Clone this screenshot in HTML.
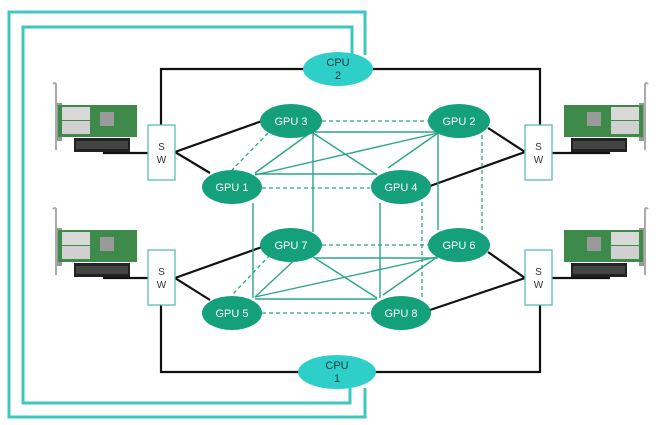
<!DOCTYPE html>
<html><head><meta charset="utf-8"><style>
html,body{margin:0;padding:0;background:#fff;}
svg{display:block;}
text{font-family:"Liberation Sans",sans-serif;}
</style></head><body>
<svg width="660" height="425" viewBox="0 0 660 425" xmlns="http://www.w3.org/2000/svg">
<defs>
<g id="nic">
  <!-- left-oriented card: bracket at left -->
  <path d="M53,84 Q55,82 56,84 L56,150" stroke="#aaa" stroke-width="2" fill="none"/>
  <rect x="57" y="103" width="5" height="38" fill="#999"/>
  <rect x="58" y="105" width="79" height="32" fill="#3d8a4a"/>
  <rect x="62" y="107" width="28" height="13" fill="#d8d8d8"/>
  <rect x="62" y="121" width="28" height="13" fill="#d0d0d0"/>
  <rect x="100" y="112" width="14" height="14" fill="#9a9a9a"/>
  <rect x="74" y="138" width="56" height="14" fill="#222"/>
  <rect x="76" y="141" width="52" height="8" fill="#444"/>
</g>
</defs>

<!-- outer teal loops -->
<g fill="none" stroke="#3cc8c0" stroke-width="3">
  <polyline points="365,55 365,12 9,12 9,417 365,417 365,388"/>
  <polyline points="352,55 352,27 23,27 23,403 350,403 350,388"/>
</g>

<!-- NICs -->
<use href="#nic"/>
<use href="#nic" transform="translate(0,125)"/>
<use href="#nic" transform="translate(701,0) scale(-1,1)"/>
<use href="#nic" transform="translate(701,125) scale(-1,1)"/>

<!-- black lines -->
<g fill="none" stroke="#111" stroke-width="2.2">
  <polyline points="161,125 161,69 305,69"/>
  <polyline points="372,69 540,69 540,125"/>
  <polyline points="161,305 161,372 305,372"/>
  <polyline points="372,372 540,372 540,305"/>
  <line x1="103" y1="153" x2="148" y2="153"/>
  <line x1="103" y1="278" x2="148" y2="278"/>
  <line x1="552" y1="153" x2="610" y2="153"/>
  <line x1="552" y1="278" x2="610" y2="278"/>
  <polyline points="262,121 175,152 210,173"/>
  <polyline points="262,247 175,278 210,300"/>
  <polyline points="488,128 525,152 430,186"/>
  <polyline points="488,252 525,278 430,310"/>
</g>

<!-- teal GPU mesh -->
<g stroke="#2aa58a" stroke-width="1.4" fill="none">
  <line x1="315" y1="132" x2="438" y2="132"/>
  <line x1="313" y1="133" x2="377" y2="175"/>
  <line x1="313" y1="133" x2="313" y2="232"/>
  <line x1="310" y1="133" x2="255" y2="173"/>
  <line x1="438" y1="133" x2="255" y2="175"/>
  <line x1="438" y1="133" x2="388" y2="168"/>
  <line x1="255" y1="174" x2="377" y2="174"/>
  <line x1="438" y1="133" x2="438" y2="230"/>
  <line x1="253" y1="203" x2="253" y2="298"/>
  <line x1="380" y1="203" x2="380" y2="298"/>
  <line x1="315" y1="258" x2="438" y2="258"/>
  <line x1="313" y1="257" x2="377" y2="298"/>
  <line x1="300" y1="255" x2="255" y2="297"/>
  <line x1="437" y1="257" x2="255" y2="297"/>
  <line x1="437" y1="257" x2="383" y2="295"/>
  <line x1="255" y1="299" x2="377" y2="299"/>
</g>
<g stroke="#2aa58a" stroke-width="1.3" fill="none" stroke-dasharray="4,3">
  <line x1="322" y1="121" x2="430" y2="121"/>
  <line x1="268" y1="133" x2="232" y2="170"/>
  <line x1="262" y1="188" x2="370" y2="188"/>
  <line x1="482" y1="128" x2="482" y2="232"/>
  <line x1="422" y1="202" x2="422" y2="298"/>
  <line x1="322" y1="245" x2="430" y2="245"/>
  <line x1="270" y1="255" x2="232" y2="295"/>
  <line x1="262" y1="313" x2="370" y2="313"/>
</g>

<!-- SW boxes -->
<g fill="#fff" stroke="#5bbfb5" stroke-width="1.3">
  <rect x="148" y="125" width="27" height="55"/>
  <rect x="148" y="250" width="27" height="55"/>
  <rect x="525" y="125" width="27" height="55"/>
  <rect x="525" y="250" width="27" height="55"/>
</g>
<g font-size="10" fill="#333" text-anchor="middle">
  <text x="161.5" y="150">S</text><text x="161.5" y="163">W</text>
  <text x="161.5" y="275">S</text><text x="161.5" y="288">W</text>
  <text x="538.5" y="150">S</text><text x="538.5" y="163">W</text>
  <text x="538.5" y="275">S</text><text x="538.5" y="288">W</text>
</g>

<!-- CPUs -->
<g fill="#2ecfc9">
  <ellipse cx="338" cy="69" rx="35" ry="17"/>
  <ellipse cx="337" cy="372" rx="39" ry="17"/>
</g>
<g font-size="11" fill="#1a3a3a" text-anchor="middle">
  <text x="338" y="66">CPU</text><text x="338" y="79">2</text>
  <text x="337" y="369">CPU</text><text x="337" y="382">1</text>
</g>

<!-- GPUs -->
<g fill="#13a07a">
  <ellipse cx="291" cy="121" rx="31" ry="17"/>
  <ellipse cx="459" cy="121" rx="31" ry="17"/>
  <ellipse cx="232" cy="187" rx="30" ry="17"/>
  <ellipse cx="401" cy="187" rx="30" ry="17"/>
  <ellipse cx="291" cy="245" rx="31" ry="17"/>
  <ellipse cx="459" cy="245" rx="31" ry="17"/>
  <ellipse cx="232" cy="313" rx="30" ry="17"/>
  <ellipse cx="401" cy="313" rx="30" ry="17"/>
</g>
<g font-size="11" fill="#fff" text-anchor="middle">
  <text x="291" y="125">GPU 3</text>
  <text x="459" y="125">GPU 2</text>
  <text x="232" y="191">GPU 1</text>
  <text x="401" y="191">GPU 4</text>
  <text x="291" y="249">GPU 7</text>
  <text x="459" y="249">GPU 6</text>
  <text x="232" y="317">GPU 5</text>
  <text x="401" y="317">GPU 8</text>
</g>
</svg>
</body></html>
